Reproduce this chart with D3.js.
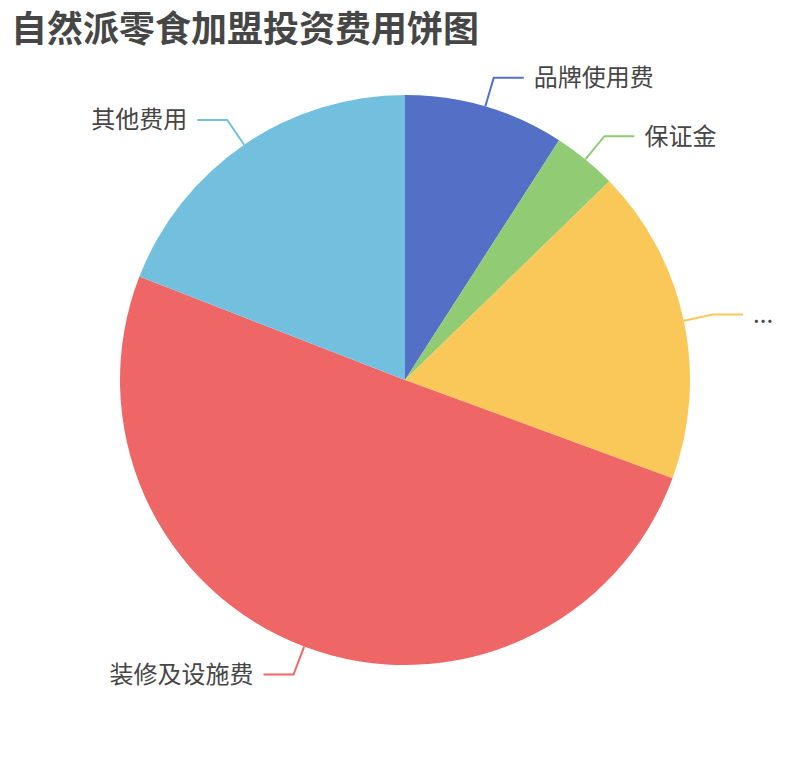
<!DOCTYPE html>
<html>
<head>
<meta charset="utf-8">
<script src="https://cdn.jsdelivr.net/npm/d3@7/dist/d3.min.js"></script>
<style>
  html, body { margin: 0; padding: 0; background: #fff; }
  svg { display: block; }
</style>
</head>
<body>
<svg id="chart" width="810" height="760"></svg>
<script>
const titleText = "自然派零食加盟投资费用饼图";
const categories = ["品牌使用费", "保证金", "...", "装修及设施费", "其他费用"];
const values = [3, 1.2, 5.9, 16.6, 6.3];
const colors = ["#5470c6", "#91cc75", "#fac858", "#ee6666", "#73c0de"];

const W = 810, H = 760;
const cx = 405, cy = 380, R = 285;
const len1 = 30, len2 = 30, gap = 10;
const fontFamily = "'Noto Sans CJK SC', 'Noto Sans', sans-serif";

const svg = d3.select("#chart");

svg.append("text")
  .attr("x", 11).attr("y", 26)
  .attr("dominant-baseline", "central")
  .attr("font-family", fontFamily)
  .attr("font-size", 36)
  .attr("font-weight", "bold")
  .attr("fill", "#464646")
  .text(titleText);

const data = categories.map((c, i) => ({ name: c, value: values[i], color: colors[i] }));

const pie = d3.pie().value(d => d.value).sort(null);
const arcs = pie(data);
const arc = d3.arc().innerRadius(0).outerRadius(R);

const g = svg.append("g").attr("transform", `translate(${cx},${cy})`);

g.selectAll("path.slice")
  .data(arcs)
  .join("path")
  .attr("class", "slice")
  .attr("d", arc)
  .attr("fill", d => d.data.color);

const pt = (a, r) => [r * Math.sin(a), -r * Math.cos(a)];

arcs.forEach(d => {
  const mid = (d.startAngle + d.endAngle) / 2;
  const p0 = pt(mid, R);
  const p1 = pt(mid, R + len1);
  const right = Math.sin(mid) >= 0;
  const p2 = [p1[0] + (right ? len2 : -len2), p1[1]];
  g.append("polyline")
    .attr("points", [p0, p1, p2].map(p => p.join(",")).join(" "))
    .attr("fill", "none")
    .attr("stroke", d.data.color)
    .attr("stroke-width", 2);
  g.append("text")
    .attr("x", p2[0] + (right ? gap : -gap))
    .attr("y", p2[1])
    .attr("dy", "0.35em")
    .attr("text-anchor", right ? "start" : "end")
    .attr("font-family", fontFamily)
    .attr("font-size", 24)
    .attr("fill", "#464646")
    .text(d.data.name);
});
</script>
</body>
</html>
